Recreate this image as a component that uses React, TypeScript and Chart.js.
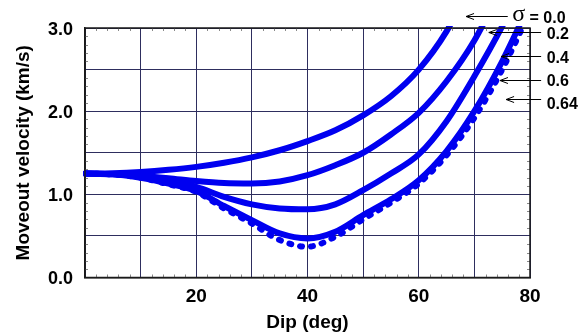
import React, { useEffect, useRef } from 'react';
import { Chart, registerables } from 'chart.js';

Chart.register(...registerables);

// ---- data ----
const dips = [0, 5, 10, 15, 20, 25, 30, 35, 40, 45, 50, 55, 60, 65, 70, 75, 80];
const sigma00 = [1.25, 1.255, 1.27, 1.295, 1.33, 1.38, 1.445, 1.53, 1.64, 1.77, 1.95, 2.18, 2.5, 2.96, 3.6, null, null];
const sigma02 = [1.25, 1.245, 1.225, 1.195, 1.16, 1.135, 1.13, 1.155, 1.23, 1.35, 1.5, 1.72, 1.98, 2.36, 2.85, 3.5, null];
const sigma04 = [1.25, 1.24, 1.21, 1.16, 1.09, 0.97, 0.88, 0.83, 0.82, 0.88, 1.05, 1.25, 1.48, 1.88, 2.42, 3.02, 3.7];
const sigma06 = [1.25, 1.24, 1.2, 1.13, 1.04, 0.86, 0.69, 0.53, 0.47, 0.55, 0.75, 0.94, 1.17, 1.52, 2.0, 2.6, 3.3];
const sigma064 = [1.25, 1.24, 1.2, 1.12, 1.03, 0.83, 0.65, 0.45, 0.37, 0.49, 0.7, 0.9, 1.13, 1.47, 1.92, 2.5, 3.2];

const sigmaLabels = ['0.0', '0.2', '0.4', '0.6', '0.64'];
const xTickLabels = [20, 40, 60, 80];
const yTickLabels = [0, 1, 2, 3];

const FONT = "'Liberation Sans', Arial, sans-serif";
const BLUE = '#0000f0';

// annotation arrows in data units: tip, tail, label position
const annot = {
  tipDip: [68.5, 72.6, 74.8, 74.6, 75.7],
  tipVel: [3.14, 2.95, 2.66, 2.38, 2.15],
  tailDip: [76, 82, 82, 82, 82],
  textDip: [76.8, 83.0, 83.0, 83.0, 83.0],
  textVel: [3.13, 2.92, 2.63, 2.35, 2.08],
};

const toPoints = (vals: (number | null)[]) => dips.map((d, i) => ({ x: d, y: vals[i] }));

const decorPlugin = {
  id: 'decor',
  beforeDatasetsDraw(chart: any) {
    const { ctx, chartArea, scales } = chart;
    const { left, right, top, bottom } = chartArea;
    const x = scales.x, y = scales.y;
    ctx.save();
    ctx.strokeStyle = '#8a8a8a';
    ctx.lineWidth = 1;
    ctx.beginPath();
    for (let d = 2; d < 80; d += 2) {
      if (d % 10 === 0) continue;
      const px = Math.round(x.getPixelForValue(d)) + 0.5;
      ctx.moveTo(px, bottom); ctx.lineTo(px, bottom - 3);
      ctx.moveTo(px, top); ctx.lineTo(px, top + 3);
    }
    for (let k = 1; k < 30; k++) {
      if (k % 5 === 0) continue;
      const py = Math.round(y.getPixelForValue(k / 10)) + 0.5;
      ctx.moveTo(left, py); ctx.lineTo(left + 3, py);
      ctx.moveTo(right, py); ctx.lineTo(right - 3, py);
    }
    ctx.stroke();
    ctx.restore();
  },
  afterDraw(chart: any) {
    const { ctx, chartArea, scales } = chart;
    const { left, right, top, bottom } = chartArea;
    const x = scales.x, y = scales.y;
    ctx.save();
    ctx.strokeStyle = '#1a1a1a';
    ctx.lineWidth = 1.5;
    ctx.strokeRect(left, top, right - left, bottom - top);

    ctx.strokeStyle = '#000';
    ctx.lineWidth = 1;
    for (let i = 0; i < sigmaLabels.length; i++) {
      const tx = x.getPixelForValue(annot.tipDip[i]);
      const ty = Math.round(y.getPixelForValue(annot.tipVel[i])) + 0.5;
      const ex = x.getPixelForValue(annot.tailDip[i]);
      ctx.beginPath();
      ctx.moveTo(ex, ty); ctx.lineTo(tx, ty);
      ctx.moveTo(tx + 8, ty - 3); ctx.lineTo(tx, ty); ctx.lineTo(tx + 8, ty + 3);
      ctx.stroke();

      const lx = x.getPixelForValue(annot.textDip[i]);
      const ly = y.getPixelForValue(annot.textVel[i]);
      ctx.fillStyle = '#000';
      ctx.textBaseline = 'middle';
      ctx.textAlign = 'left';
      if (i === 0) {
        ctx.font = "24px 'Liberation Serif', serif";
        ctx.fillText('σ', lx, ly - 2);
        const w = ctx.measureText('σ').width;
        ctx.font = `bold 16px ${FONT}`;
        ctx.fillText(' = ' + sigmaLabels[i], lx + w, ly + 1);
      } else {
        ctx.font = `bold 16px ${FONT}`;
        ctx.fillText(sigmaLabels[i], lx, ly);
      }
    }
    ctx.restore();
  },
};

export default function App() {
  const ref = useRef<HTMLCanvasElement | null>(null);

  useEffect(() => {
    if (!ref.current) return;
    const solid = (vals: (number | null)[]) => ({
      data: toPoints(vals),
      borderColor: BLUE,
      backgroundColor: BLUE,
      borderWidth: 6,
      pointRadius: 0,
      fill: false,
      cubicInterpolationMode: 'monotone' as const,
      clip: 2,
    });
    const chart = new Chart(ref.current, {
      type: 'line',
      data: {
        datasets: [
          solid(sigma00),
          solid(sigma02),
          solid(sigma04),
          solid(sigma06),
          { ...solid(sigma064), borderDash: [2, 9], borderCapStyle: 'round' as const },
        ],
      },
      options: {
        responsive: false,
        animation: false,
        layout: { padding: { left: 0, right: 51, top: 28, bottom: 0 } },
        plugins: { legend: { display: false }, tooltip: { enabled: false } },
        scales: {
          x: {
            type: 'linear',
            min: 0,
            max: 80,
            ticks: {
              stepSize: 10,
              autoSkip: false,
              maxRotation: 0,
              padding: 8,
              color: '#000',
              font: { family: FONT, size: 19, weight: 'bold' },
              callback: (v: any) => (xTickLabels.includes(Number(v)) ? String(v) : ''),
            },
            grid: { color: '#2e2e5e', lineWidth: 1, drawTicks: false },
            border: { display: true, color: '#1a1a1a', width: 1.5 },
            title: {
              display: true,
              text: 'Dip (deg)',
              color: '#000',
              font: { family: FONT, size: 19, weight: 'bold' },
              padding: { top: 0, bottom: 1 },
            },
            afterFit: (s: any) => { s.height = 57.5; },
          },
          y: {
            type: 'linear',
            min: 0,
            max: 3,
            ticks: {
              stepSize: 0.5,
              autoSkip: false,
              padding: 12,
              labelOffset: 2,
              color: '#000',
              font: { family: FONT, size: 18, weight: 'bold' },
              callback: (v: any) => (yTickLabels.includes(Number(v)) ? Number(v).toFixed(1) : ''),
            },
            grid: { color: '#2e2e5e', lineWidth: 1, drawTicks: false },
            border: { display: true, color: '#1a1a1a', width: 1.5 },
            title: {
              display: true,
              text: 'Moveout velocity (km/s)',
              color: '#000',
              font: { family: FONT, size: 19, weight: 'bold' },
              padding: { top: 12, bottom: 0 },
            },
            afterFit: (s: any) => { s.width = 85; },
          },
        },
      },
      plugins: [decorPlugin],
    });
    return () => chart.destroy();
  }, []);

  return (
    <div style={{ position: 'absolute', left: 0, top: 0, width: 581, height: 335, background: '#fff' }}>
      <canvas ref={ref} width={581} height={335} style={{ display: 'block' }} />
    </div>
  );
}
